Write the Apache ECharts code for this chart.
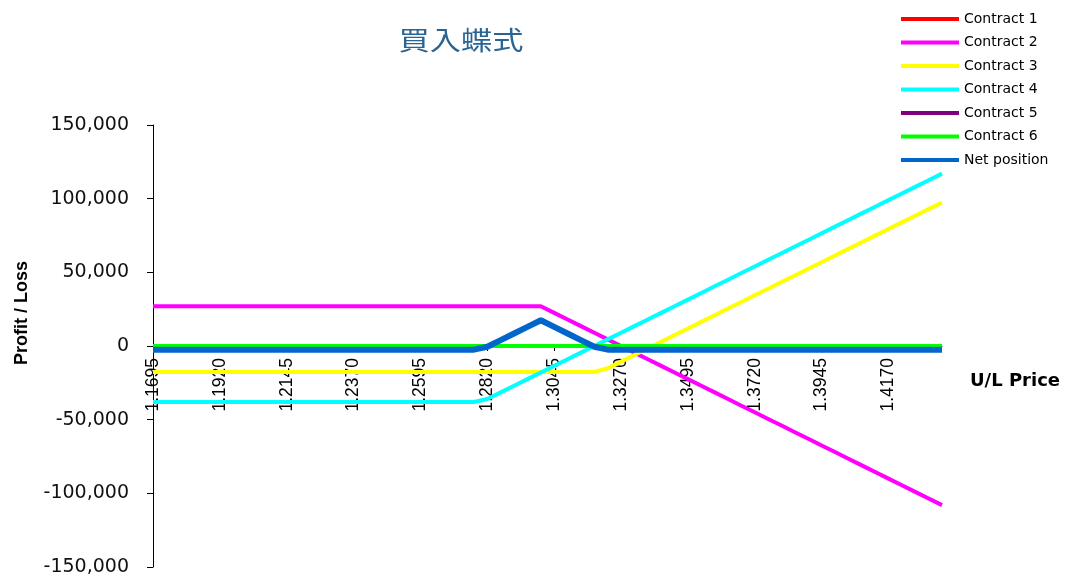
<!DOCTYPE html>
<html>
<head>
<meta charset="utf-8">
<title>買入蝶式</title>
<script src="https://cdn.jsdelivr.net/npm/echarts@6/dist/echarts.min.js"></script>
<style>
  html, body { margin: 0; padding: 0; background: #ffffff; }
  #chart { width: 1065px; height: 578px; }
</style>
</head>
<body>
<div id="chart"></div>
<script>
// Underlying price grid (step 0.0045)
const prices = [
  '1.1695','1.1740','1.1785','1.1830','1.1875','1.1920','1.1965','1.2010','1.2055','1.2100',
  '1.2145','1.2190','1.2235','1.2280','1.2325','1.2370','1.2415','1.2460','1.2505','1.2550',
  '1.2595','1.2640','1.2685','1.2730','1.2775','1.2820','1.2865','1.2910','1.2955','1.3000',
  '1.3045','1.3090','1.3135','1.3180','1.3225','1.3270','1.3315','1.3360','1.3405','1.3450',
  '1.3495','1.3540','1.3585','1.3630','1.3675','1.3720','1.3765','1.3810','1.3855','1.3900',
  '1.3945','1.3990','1.4035','1.4080','1.4125','1.4170','1.4215','1.4260','1.4305','1.4350'
];

const seriesNames = ['Contract 1', 'Contract 2', 'Contract 3', 'Contract 4', 'Contract 5', 'Contract 6', 'Net position'];

// Profit / loss of each leg at every price
const contract1 = [
  0,0,0,0,0,0,0,0,0,0, 0,0,0,0,0,0,0,0,0,0, 0,0,0,0,0,0,0,0,0,0,
  0,0,0,0,0,0,0,0,0,0, 0,0,0,0,0,0,0,0,0,0, 0,0,0,0,0,0,0,0,0,0
];
const contract2 = [
  27000,27000,27000,27000,27000,27000,27000,27000,27000,27000,
  27000,27000,27000,27000,27000,27000,27000,27000,27000,27000,
  27000,27000,27000,27000,27000,27000,27000,27000,27000,27000,
  22500,18000,13500,9000,4500,0,-4500,-9000,-13500,-18000,
  -22500,-27000,-31500,-36000,-40500,-45000,-49500,-54000,-58500,-63000,
  -67500,-72000,-76500,-81000,-85500,-90000,-94500,-99000,-103500,-108000
];
const contract3 = [
  -17600,-17600,-17600,-17600,-17600,-17600,-17600,-17600,-17600,-17600,
  -17600,-17600,-17600,-17600,-17600,-17600,-17600,-17600,-17600,-17600,
  -17600,-17600,-17600,-17600,-17600,-17600,-17600,-17600,-17600,-17600,
  -17600,-17600,-17600,-17600,-15100,-10600,-6100,-1600,2900,7400,
  11900,16400,20900,25400,29900,34400,38900,43400,47900,52400,
  56900,61400,65900,70400,74900,79400,83900,88400,92900,97400
];
const contract4 = [
  -38000,-38000,-38000,-38000,-38000,-38000,-38000,-38000,-38000,-38000,
  -38000,-38000,-38000,-38000,-38000,-38000,-38000,-38000,-38000,-38000,
  -38000,-38000,-38000,-38000,-38000,-36000,-31500,-27000,-22500,-18000,
  -13500,-9000,-4500,0,4500,9000,13500,18000,22500,27000,
  31500,36000,40500,45000,49500,54000,58500,63000,67500,72000,
  76500,81000,85500,90000,94500,99000,103500,108000,112500,117000
];
const contract5 = [
  0,0,0,0,0,0,0,0,0,0, 0,0,0,0,0,0,0,0,0,0, 0,0,0,0,0,0,0,0,0,0,
  0,0,0,0,0,0,0,0,0,0, 0,0,0,0,0,0,0,0,0,0, 0,0,0,0,0,0,0,0,0,0
];
const contract6 = [
  0,0,0,0,0,0,0,0,0,0, 0,0,0,0,0,0,0,0,0,0, 0,0,0,0,0,0,0,0,0,0,
  0,0,0,0,0,0,0,0,0,0, 0,0,0,0,0,0,0,0,0,0, 0,0,0,0,0,0,0,0,0,0
];
const netPosition = [
  -2500,-2500,-2500,-2500,-2500,-2500,-2500,-2500,-2500,-2500,
  -2500,-2500,-2500,-2500,-2500,-2500,-2500,-2500,-2500,-2500,
  -2500,-2500,-2500,-2500,-2500,-500,4000,8500,13000,17500,
  13000,8500,4000,-500,-2500,-2500,-2500,-2500,-2500,-2500,
  -2500,-2500,-2500,-2500,-2500,-2500,-2500,-2500,-2500,-2500,
  -2500,-2500,-2500,-2500,-2500,-2500,-2500,-2500,-2500,-2500
];

// Y axis range
const yMin = -150000;
const yMax = 150000;
const yStep = 50000;

const seriesValues = [contract1, contract2, contract3, contract4, contract5, contract6, netPosition];
const seriesColors = ['#ff0000', '#ff00ff', '#ffff00', '#00ffff', '#800080', '#00ff00', '#0066cc'];
const seriesWidths = [4, 4, 4, 4, 4, 4, 6];

// Plot area in pixels
const gridTop = 125;
const gridBottom = 11;
const gridHeight = 578 - gridTop - gridBottom;
// Shift the category axis up from the bottom edge to the zero line
const zeroOffset = -gridHeight * (0 - yMin) / (yMax - yMin);

const chart = echarts.init(document.getElementById('chart'), null, { renderer: 'canvas' });

const option = {
  animation: false,
  backgroundColor: '#ffffff',
  grid: { left: 153, right: 123, top: gridTop, bottom: gridBottom, containLabel: false, outerBoundsMode: 'none' },
  legend: {
    orient: 'vertical',
    left: 901,
    top: 12,
    padding: 0,
    icon: 'rect',
    itemWidth: 58,
    itemHeight: 4,
    itemGap: 9.5,
    textStyle: { fontFamily: 'DejaVu Sans', fontSize: 14, color: '#000000', lineHeight: 14 },
    data: seriesNames
  },
  graphic: [
    {
      type: 'text',
      x: 461, y: 40,
      scaleX: 1.2,
      style: {
        text: '買入蝶式',
        fill: '#2a6493',
        font: '26px "Noto Sans CJK TC"',
        textAlign: 'center', textVerticalAlign: 'middle',
        align: 'center', verticalAlign: 'middle'
      }
    },
    {
      type: 'text',
      x: 22, y: 313,
      rotation: Math.PI / 2,
      style: {
        text: 'Profit / Loss',
        fill: '#000000',
        font: 'bold 18px "Liberation Sans"',
        textAlign: 'center', textVerticalAlign: 'middle',
        align: 'center', verticalAlign: 'middle'
      }
    },
    {
      type: 'text',
      x: 1015, y: 381,
      style: {
        text: 'U/L Price',
        fill: '#000000',
        font: 'bold 18px "DejaVu Sans"',
        textAlign: 'center', textVerticalAlign: 'middle',
        align: 'center', verticalAlign: 'middle'
      }
    }
  ],
  xAxis: {
    type: 'category',
    data: prices,
    boundaryGap: false,
    position: 'bottom',
    offset: zeroOffset,
    z: 0,
    axisLine: { show: true, onZero: false, lineStyle: { color: '#000000', width: 1 } },
    axisTick: { show: true, interval: 4, length: 5, lineStyle: { color: '#000000' } },
    axisLabel: {
      show: true,
      interval: 4,
      rotate: 90,
      margin: 12,
      fontFamily: 'Liberation Sans',
      fontSize: 17.5,
      color: '#000000'
    },
    splitLine: { show: false }
  },
  yAxis: {
    type: 'value',
    min: yMin,
    max: yMax,
    interval: yStep,
    z: 0,
    axisLine: { show: true, lineStyle: { color: '#000000', width: 1 } },
    axisTick: { show: true, length: 6, lineStyle: { color: '#000000' } },
    axisLabel: {
      margin: 24,
      fontFamily: 'DejaVu Sans',
      fontSize: 19,
      color: '#111111',
      formatter: v => v.toLocaleString('en-US')
    },
    splitLine: { show: false }
  },
  series: seriesNames.map((name, i) => ({
    name: name,
    type: 'line',
    data: seriesValues[i],
    symbol: 'none',
    smooth: false,
    z: 5,
    lineStyle: { color: seriesColors[i], width: seriesWidths[i] },
    itemStyle: { color: seriesColors[i] },
    emphasis: { disabled: true }
  }))
};

chart.setOption(option);
</script>
</body>
</html>
